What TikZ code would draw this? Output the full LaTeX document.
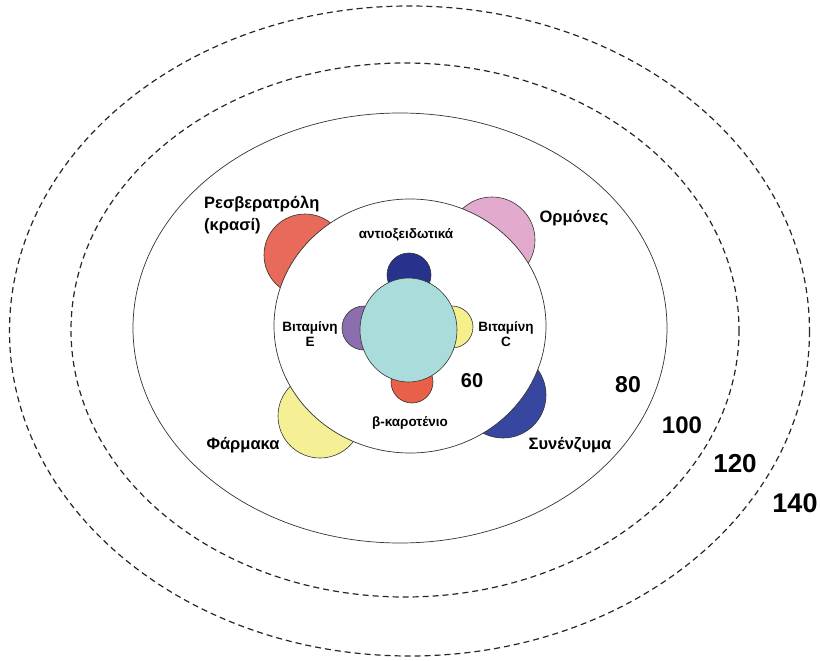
\documentclass[tikz,border=0pt]{standalone}
\usepackage{fontspec}
\setmainfont{Liberation Sans}
\definecolor{bigred}{HTML}{E86A5A}
\definecolor{pinklens}{HTML}{E2AACD}
\definecolor{bigyellow}{HTML}{F5F096}
\definecolor{bigblue}{HTML}{37469F}
\definecolor{navy}{HTML}{28328C}
\definecolor{purplelens}{HTML}{8C6EAF}
\definecolor{smallyellow}{HTML}{F5F08C}
\definecolor{smallred}{HTML}{E86048}
\definecolor{cyanball}{HTML}{AADCDC}
\begin{document}
\begin{tikzpicture}[x=1pt,y=-1pt,
  ring/.style={draw=black!85, line width=1.2pt, dash pattern=on 6pt off 4pt},
  solidring/.style={draw=black!80, line width=0.7pt},
  lens/.style={draw=black!80, line width=0.6pt},
  lbl/.style={font=\bfseries\fontsize{16.5}{22}\selectfont, inner sep=0pt},
  slbl/.style={font=\bfseries\fontsize{13.5}{15}\selectfont, inner sep=0pt},
  num/.style={font=\bfseries, inner sep=0pt}]
\useasboundingbox (0,0) rectangle (820,661);
% rings
\draw[ring] (409.5,331) ellipse [x radius=400, y radius=325];
\draw[ring] (405,330) ellipse [x radius=334, y radius=267];
\draw[solidring] (400,328) ellipse [x radius=267, y radius=215];
% big lenses
\draw[lens, fill=bigred] (305,255) circle [radius=41];
\draw[lens, fill=pinklens] (492,240) circle [radius=43];
\draw[lens, fill=bigyellow] (320,416) circle [radius=42];
\draw[lens, fill=bigblue] (503,395) circle [radius=43];
% inner disc
\draw[solidring, fill=white] (410,326) ellipse [x radius=136, y radius=127];
% small lenses
\draw[lens, fill=navy] (409,275) circle [radius=22];
\draw[lens, fill=purplelens] (364,328) circle [radius=22];
\draw[lens, fill=smallyellow] (452,327) circle [radius=21];
\draw[lens, fill=smallred] (412,382) circle [radius=21];
% centre
\draw[lens, fill=cyanball] (408.5,330) ellipse [x radius=48.5, y radius=52];
% labels
\node[lbl, align=left, anchor=west] (resv) at (204,215) {Ρεσβερατρόλη\\(κρασί)};
\node[lbl] (horm) at (574,218) {Ορμόνες};
\node[lbl] (drug) at (243,445) {Φάρμακα};
\node[lbl] (coenz) at (570,445) {Συνένζυμα};
\node[slbl] (antiox) at (406,235) {αντιοξειδωτικά};
\node[slbl, align=center] (vitE) at (310,334) {Βιταμίνη\\E};
\node[slbl, align=center] (vitC) at (506,334) {Βιταμίνη\\C};
\node[slbl] (beta) at (410,423) {β-καροτένιο};
\node[num, font=\bfseries\fontsize{20}{20}\selectfont] (n60) at (472,381) {60};
\node[num, font=\bfseries\fontsize{23}{23}\selectfont] (n80) at (628,385) {80};
\node[num, font=\bfseries\fontsize{24}{24}\selectfont] (n100) at (682,425) {100};
\node[num, font=\bfseries\fontsize{26}{26}\selectfont] (n120) at (735,464) {120};
\node[num, font=\bfseries\fontsize{27}{27}\selectfont] (n140) at (795,503) {140};
\end{tikzpicture}
\end{document}
